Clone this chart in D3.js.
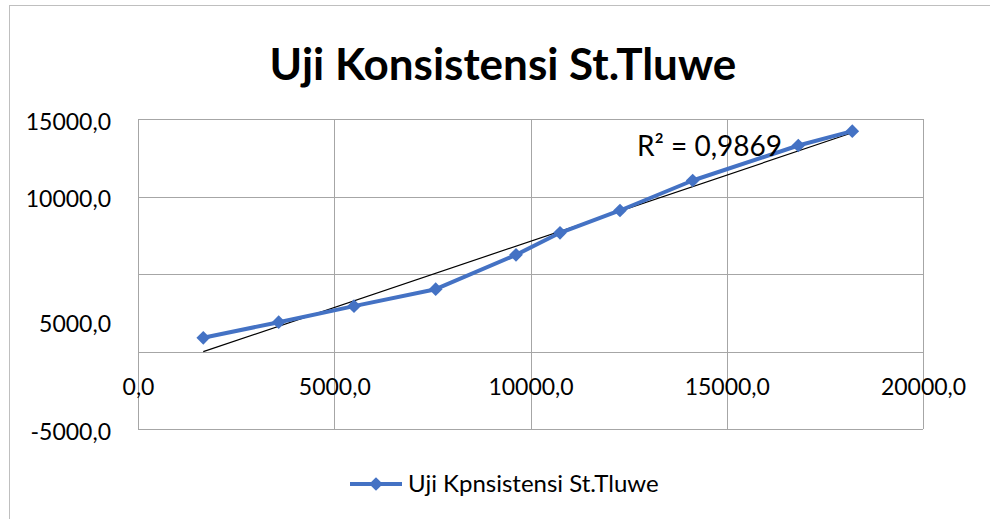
<!DOCTYPE html>
<html>
<head>
<meta charset="utf-8">
<script src="https://cdn.jsdelivr.net/npm/d3@7"></script>
<style>
	body { margin: 0; background: #fff; }
	svg text { font-family: Lato, 'Open Sans', sans-serif; fill: #000; }
</style>
</head>
<body>
<div id="chart"></div>
<script>
// data
const xValues = [1663, 3584, 5503, 7584, 9631, 10752, 12280, 14132, 16823, 18198];
const yValues = [884, 1892, 2925, 4021, 6236, 7656, 9097, 11032, 13290, 14216];
const xTicks = [0, 5000, 10000, 15000, 20000];
const yGridTicks = [-5000, 0, 5000, 10000, 15000];
const yLabelTicks = [-5000, 5000, 10000, 15000];
const chartTitle = 'Uji Konsistensi St.Tluwe';
const seriesName = 'Uji Kpnsistensi St.Tluwe';
const rSquaredText = 'R² = 0,9869';

const width = 990;
const height = 519;
const margin = { top: 119, right: 67, bottom: 90, left: 138 };
const innerWidth = width - margin.left - margin.right;
const innerHeight = height - margin.top - margin.bottom;
const blue = '#4472c4';
const gridColor = '#a6a6a6';

const points = xValues.map((x, i) => ({ x, y: yValues[i] }));
const fmt = (v) => d3.format('.1f')(v).replace('.', ',').replace('\u2212', '-');

const xScale = d3.scaleLinear().domain([0, 20000]).range([0, innerWidth]);
const yScale = d3.scaleLinear().domain([-5000, 15000]).range([innerHeight, 0]);

const svg = d3.select('#chart').append('svg')
		.attr('width', width)
		.attr('height', height);

svg.append('rect')
		.attr('x', 0).attr('y', 0)
		.attr('width', width).attr('height', height)
		.attr('fill', '#fff');

// outer chart border
svg.append('rect')
		.attr('x', 9.5).attr('y', 5.5)
		.attr('width', width).attr('height', height)
		.attr('fill', 'none')
		.attr('stroke', '#bfbfbf');

svg.append('text')
		.attr('x', 503)
		.attr('y', 80)
		.attr('text-anchor', 'middle')
		.style('font-size', '44px')
		.style('font-weight', 'bold')
		.text(chartTitle);

const g = svg.append('g')
		.attr('transform', `translate(${margin.left}, ${margin.top})`);

// grid
g.selectAll('.hgrid')
		.data(yGridTicks)
	.enter().append('line')
		.attr('class', 'hgrid')
		.attr('x1', 0).attr('x2', innerWidth)
		.attr('y1', (d) => Math.round(yScale(d)) + 0.5)
		.attr('y2', (d) => Math.round(yScale(d)) + 0.5)
		.attr('stroke', gridColor);

g.selectAll('.vgrid')
		.data(xTicks)
	.enter().append('line')
		.attr('class', 'vgrid')
		.attr('y1', 0).attr('y2', innerHeight)
		.attr('x1', (d) => Math.round(xScale(d)) + 0.5)
		.attr('x2', (d) => Math.round(xScale(d)) + 0.5)
		.attr('stroke', gridColor);

// x axis labels (axis crosses at 0)
const xAxis = d3.axisBottom(xScale).tickValues(xTicks).tickSize(0).tickFormat(fmt);
g.append('g')
		.attr('class', 'x axis')
		.attr('transform', `translate(0, ${yScale(0)})`)
		.call(xAxis)
		.call((a) => a.select('.domain').remove())
		.call((a) => a.selectAll('text')
				.attr('y', 27)
				.style('font-size', '23px'));

// y axis labels
const yLabelShift = { 5000: 47 };
const yAxis = d3.axisLeft(yScale).tickValues(yLabelTicks).tickSize(0).tickFormat(fmt);
g.append('g')
		.attr('class', 'y axis')
		.call(yAxis)
		.call((a) => a.select('.domain').remove())
		.call((a) => a.selectAll('text')
				.attr('x', -27)
				.attr('y', (d) => 3 + (yLabelShift[d] || 0))
				.style('font-size', '23px'));

// linear trendline
const mx = d3.mean(points, (d) => d.x);
const my = d3.mean(points, (d) => d.y);
const slope = d3.sum(points, (d) => (d.x - mx) * (d.y - my)) / d3.sum(points, (d) => (d.x - mx) ** 2);
const intercept = my - slope * mx;
const xExtent = d3.extent(points, (d) => d.x);

g.append('line')
		.attr('x1', xScale(xExtent[0]))
		.attr('y1', yScale(slope * xExtent[0] + intercept))
		.attr('x2', xScale(xExtent[1]))
		.attr('y2', yScale(slope * xExtent[1] + intercept))
		.attr('stroke', '#000')
		.attr('stroke-width', 1.2);

// series
const line = d3.line().x((d) => xScale(d.x)).y((d) => yScale(d.y));
g.append('path')
		.datum(points)
		.attr('d', line)
		.attr('fill', 'none')
		.attr('stroke', blue)
		.attr('stroke-width', 4)
		.attr('stroke-linejoin', 'round');

const diamond = d3.symbol().type(d3.symbolDiamond2).size(120);
g.selectAll('.marker')
		.data(points)
	.enter().append('path')
		.attr('class', 'marker')
		.attr('d', diamond)
		.attr('transform', (d) => `translate(${xScale(d.x)}, ${yScale(d.y)})`)
		.attr('fill', blue);

svg.append('text')
		.attr('x', 637)
		.attr('y', 156)
		.style('font-size', '28px')
		.text(rSquaredText);

// legend
const legend = svg.append('g').attr('transform', 'translate(350, 484)');
legend.append('line')
		.attr('x1', 0).attr('x2', 52)
		.attr('stroke', blue)
		.attr('stroke-width', 4);
legend.append('path')
		.attr('d', diamond)
		.attr('transform', 'translate(26, 0)')
		.attr('fill', blue);
legend.append('text')
		.attr('x', 58)
		.attr('y', 8)
		.style('font-size', '24px')
		.text(seriesName);
</script>
</body>
</html>
